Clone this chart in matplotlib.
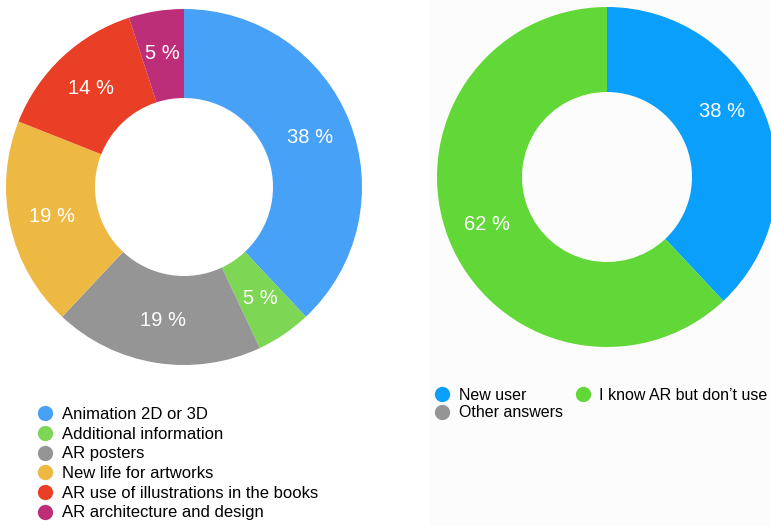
import numpy as np
import matplotlib.pyplot as plt
from matplotlib.lines import Line2D
from matplotlib.patches import Rectangle

plt.rcParams['font.family'] = ['Liberation Sans', 'DejaVu Sans']

# left chart: what would you like to see in AR
left_labels = ['Animation 2D or 3D', 'Additional information', 'AR posters',
               'New life for artworks', 'AR use of illustrations in the books',
               'AR architecture and design']
left_values = [38, 5, 19, 19, 14, 5]
left_colors = ['#47a1f6', '#7dd654', '#959595', '#edb942', '#e93f26', '#bd2e78']

# right chart: user types
right_labels = ['New user', 'I know AR but don\u2019t use', 'Other answers']
right_values = [38, 62, 0]
right_colors = ['#0a9ffa', '#62d838', '#959595']

W, H = 771, 526
fig = plt.figure(figsize=(W/100, H/100), dpi=100)

# faint panel behind the right chart
fig.patches.append(Rectangle((430/W, 0), 1 - 430/W, 1, transform=fig.transFigure,
                             facecolor='#fcfcfc', edgecolor='none', zorder=-1))

def donut(ax, values, colors):
    wedges, texts, autotexts = ax.pie(
        values, colors=colors, startangle=90, counterclock=False,
        wedgeprops=dict(width=0.5, linewidth=0), pctdistance=0.76,
        autopct=lambda p: '%d %%' % round(p) if p > 0 else '',
        textprops=dict(color='white', fontsize=14.5))
    ax.set_xlim(-1, 1)
    ax.set_ylim(-1, 1)
    ax.set_aspect('equal')
    ax.axis('off')
    return wedges, autotexts

# left donut: center (184, 187), radius 178 px
r = 178
ax1 = fig.add_axes([(184 - r)/W, (H - 187 - r)/H, 2*r/W, 2*r/H])
donut(ax1, left_values, left_colors)

# right donut: center (607, 177), radius 170 px
r = 170
ax2 = fig.add_axes([(607 - r)/W, (H - 177 - r)/H, 2*r/W, 2*r/H])
wedges, autotexts = donut(ax2, right_values, right_colors)
# the first label sits a bit higher than the wedge middle, away from the edge
w = wedges[0]
ang = np.deg2rad((w.theta1 + w.theta2) / 2 + 8)
autotexts[0].set_position((0.78*np.cos(ang), 0.78*np.sin(ang)))

def handles(colors):
    return [Line2D([], [], marker='o', linestyle='none', markersize=11,
                   markerfacecolor=c, markeredgecolor='none') for c in colors]

fig.legend(handles(left_colors), left_labels, loc='upper left',
           bbox_to_anchor=(37/W, 1 - 407/H), frameon=False, fontsize=12,
           handlelength=1.0, handletextpad=0.5, labelspacing=0.28,
           borderpad=0, borderaxespad=0)

order = [0, 2, 1]
fig.legend(handles([right_colors[i] for i in order]),
           [right_labels[i] for i in order], loc='upper left', ncol=2,
           bbox_to_anchor=(434/W, 1 - 388/H), frameon=False, fontsize=11.5,
           handlelength=1.0, handletextpad=0.55, labelspacing=0.15,
           columnspacing=0.75, borderpad=0, borderaxespad=0)

fig.savefig('out.png', dpi=100)
